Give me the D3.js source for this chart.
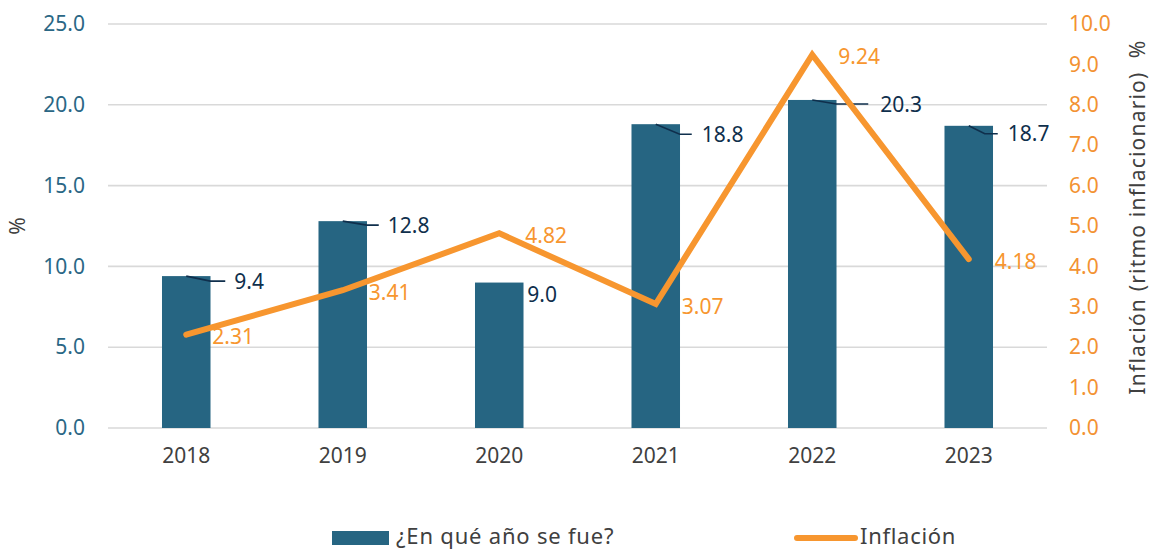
<!DOCTYPE html>
<html>
<head>
<meta charset="utf-8">
<script src="https://cdn.jsdelivr.net/npm/d3@7"></script>
<style>
  body { margin: 0; background: #fff; }
  svg text { font-family: "Noto Sans", "Open Sans", sans-serif; }
</style>
</head>
<body>
<svg width="1151" height="550"></svg>
<script>
// data
var years = ['2018', '2019', '2020', '2021', '2022', '2023'];
var seFue = [9.4, 12.8, 9.0, 18.8, 20.3, 18.7];
var inflacion = [2.31, 3.41, 4.82, 3.07, 9.24, 4.18];
var leftTicks = [0, 5, 10, 15, 20, 25];
var rightTicks = [0, 1, 2, 3, 4, 5, 6, 7, 8, 9, 10];

var barColor = '#266582', lineColor = '#f7962f', navy = '#0f2f4c', grey = '#404040';

var svg = d3.select('svg');
var plotLeft = 108, plotRight = 1047, plotTop = 24, plotBottom = 428;

var x = d3.scaleBand().domain(years).range([plotLeft, plotRight]).paddingInner(0.69).paddingOuter(0.345);
var y = d3.scaleLinear().domain([0, 25]).range([plotBottom, plotTop]);
var y2 = d3.scaleLinear().domain([0, 10]).range([plotBottom, plotTop]);

// gridlines
svg.append('g').selectAll('line').data(leftTicks).enter().append('line')
  .attr('x1', plotLeft).attr('x2', plotRight)
  .attr('y1', function(d){ return y(d); }).attr('y2', function(d){ return y(d); })
  .style('stroke', '#d9d9d9').style('stroke-width', 1.6);

// left axis
var yAxis = svg.append('g').attr('transform', 'translate(' + 85 + ',0)')
  .call(d3.axisLeft(y).tickValues(leftTicks).tickSize(0).tickPadding(0).tickFormat(d3.format('.1f')));
yAxis.select('.domain').remove();
yAxis.selectAll('text').style('font-size', '21px').style('fill', '#2a6785').attr('font-family', null);

// right axis
var y2Axis = svg.append('g').attr('transform', 'translate(' + 1069 + ',0)')
  .call(d3.axisRight(y2).tickValues(rightTicks).tickSize(0).tickPadding(0).tickFormat(d3.format('.1f')));
y2Axis.select('.domain').remove();
y2Axis.selectAll('text').style('font-size', '21px').style('fill', '#f39232').attr('font-family', null);

// x axis
var xAxis = svg.append('g').attr('transform', 'translate(0,' + plotBottom + ')')
  .call(d3.axisBottom(x).tickSize(0).tickPadding(20));
xAxis.select('.domain').remove();
xAxis.selectAll('text').style('font-size', '21px').style('fill', grey).attr('font-family', null);

// bars
svg.append('g').selectAll('rect').data(seFue).enter().append('rect')
  .attr('x', function(d, i){ return x(years[i]); })
  .attr('y', function(d){ return y(d); })
  .attr('width', x.bandwidth())
  .attr('height', function(d){ return plotBottom - y(d); })
  .style('fill', barColor);

// leader lines + bar labels (label offsets only, 2020 has no leader)
var leadA = [24, 24, 0, 24, 24, 16], leadB = [39, 36, 0, 36, 56, 29], labDx = [48, 45, 28, 46, 68, 39];
var drop = [5, 4, 12, 10, 4, 8];
var labels = svg.append('g');
seFue.forEach(function(v, i){
  var cx = x(years[i]) + x.bandwidth() / 2, ty = y(v);
  if (i !== 2) {
    labels.append('polyline')
      .attr('points', [[cx, ty], [cx + leadA[i], ty + drop[i]], [cx + leadB[i], ty + drop[i]]].join(' '))
      .style('fill', 'none').style('stroke', navy).style('stroke-width', 1.6);
  }
  labels.append('text')
    .attr('x', cx + labDx[i]).attr('y', ty + drop[i]).attr('dy', '0.36em')
    .style('font-size', '21px').style('fill', navy)
    .text(d3.format('.1f')(v));
});

// inflation line
var line = d3.line()
  .x(function(d, i){ return x(years[i]) + x.bandwidth() / 2; })
  .y(function(d){ return y2(d); });
svg.append('path').datum(inflacion).attr('d', line)
  .style('fill', 'none').style('stroke', lineColor).style('stroke-width', 6)
  .style('stroke-linecap', 'round').style('stroke-linejoin', 'miter');

svg.append('g').selectAll('text').data(inflacion).enter().append('text')
  .attr('x', function(d, i){ return x(years[i]) + x.bandwidth() / 2 + 26; })
  .attr('y', function(d){ return y2(d) + 2; }).attr('dy', '0.36em')
  .style('font-size', '21px').style('fill', lineColor)
  .text(function(d){ return d3.format('.2f')(d); });

// axis titles
svg.append('text').attr('transform', 'translate(25,226)rotate(-90)')
  .attr('text-anchor', 'middle').style('font-size', '21px').style('fill', grey).text('%');
svg.append('text').attr('transform', 'translate(1145,217)rotate(-90)')
  .attr('text-anchor', 'middle').style('font-size', '21px').style('letter-spacing', '1.2px').style('fill', grey)
  .attr('xml:space', 'preserve').text('Inflación (ritmo inflacionario)  %');

// legend
var lg = svg.append('g');
lg.append('rect').attr('x', 332).attr('y', 531).attr('width', 57).attr('height', 14).style('fill', barColor);
lg.append('text').attr('x', 396).attr('y', 544).style('font-size', '22px').style('letter-spacing', '0.8px').style('fill', grey).text('¿En qué año se fue?');
lg.append('line').attr('x1', 797).attr('x2', 855).attr('y1', 538).attr('y2', 538)
  .style('stroke', lineColor).style('stroke-width', 6).style('stroke-linecap', 'round');
lg.append('text').attr('x', 860).attr('y', 544).style('font-size', '22px').style('letter-spacing', '0.7px').style('fill', grey).text('Inflación');
</script>
</body>
</html>
